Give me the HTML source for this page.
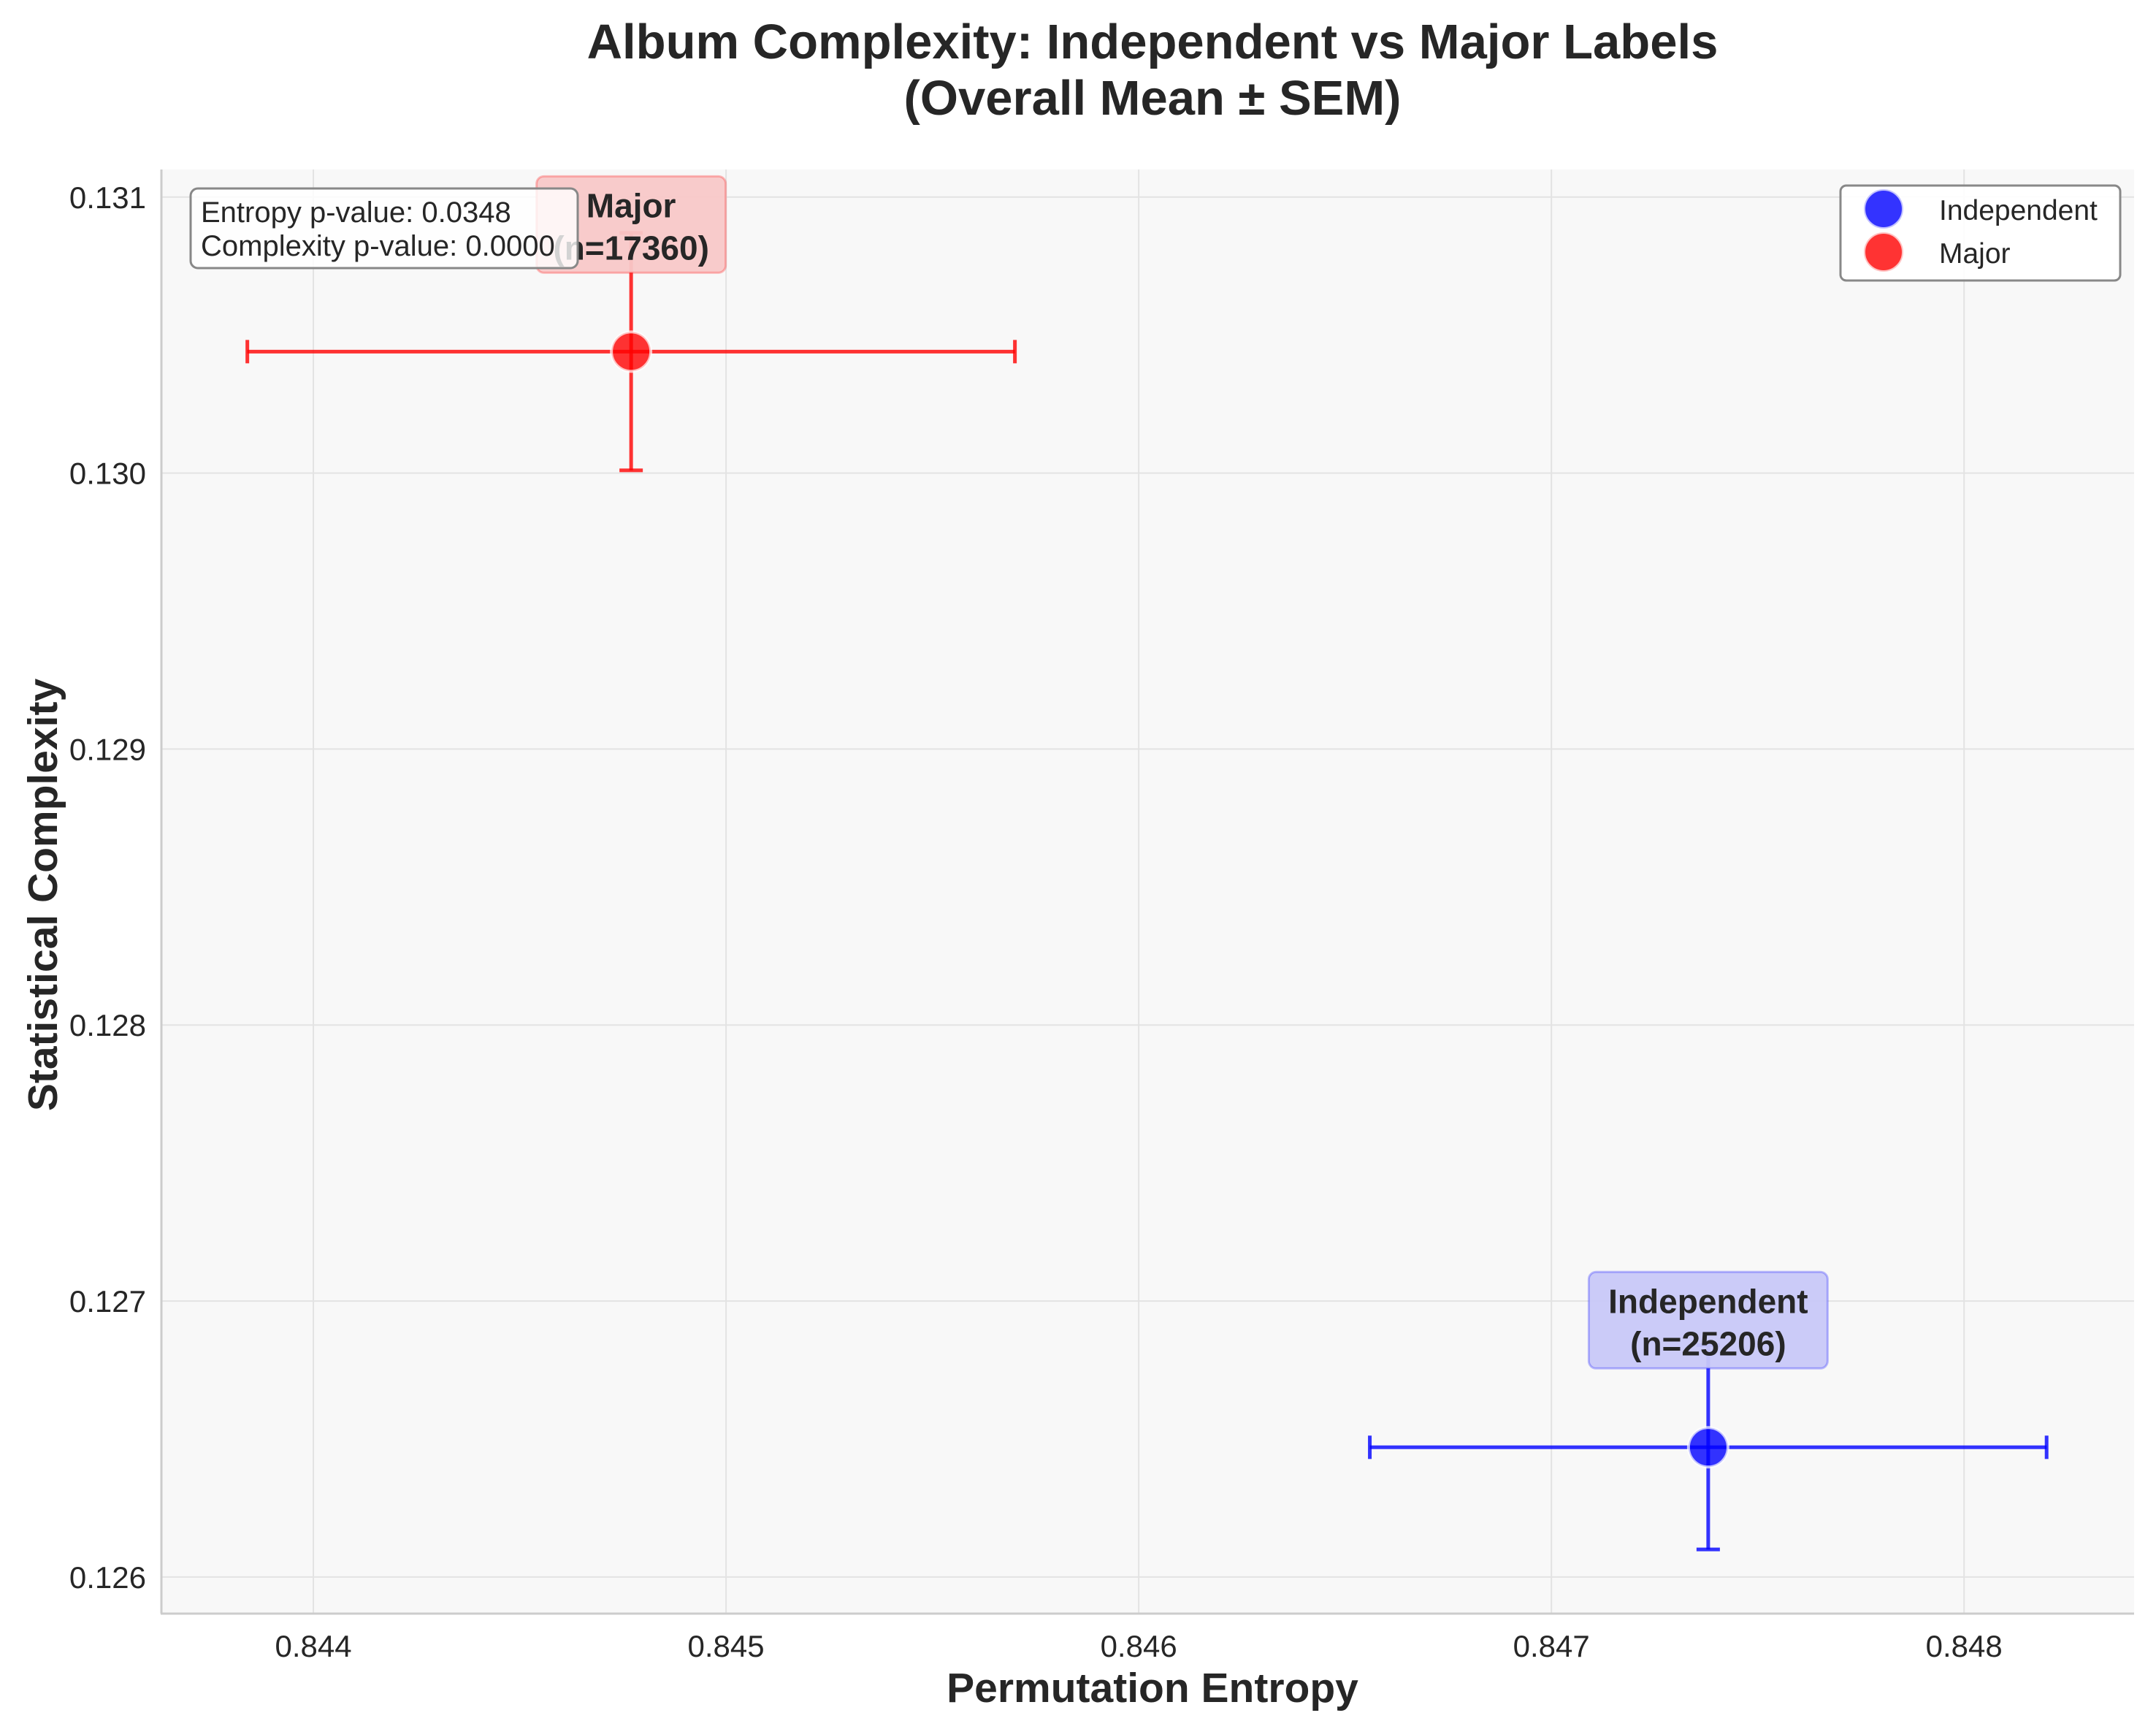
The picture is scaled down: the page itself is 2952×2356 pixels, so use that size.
<!DOCTYPE html>
<html><head><meta charset="utf-8"><style>
html,body{margin:0;padding:0;background:#fff;}
svg{display:block;font-family:"Liberation Sans",Arial,sans-serif;}
</style></head><body>
<svg id="chart" width="2952" height="2356" viewBox="0 0 2952 2356" xmlns="http://www.w3.org/2000/svg">
<rect width="2952" height="2356" fill="#fff"/>
<text x="1578" y="80" text-anchor="middle" font-size="67" font-weight="bold" fill="#262626">Album Complexity: Independent vs Major Labels</text>
<text x="1578" y="157" text-anchor="middle" font-size="67" font-weight="bold" fill="#262626">(Overall Mean ± SEM)</text>
<rect x="220" y="232" width="2702" height="1976" fill="#f8f8f8"/>
<g id="grid"></g>
<g id="ticks"></g>
<line x1="221" y1="232" x2="221" y2="2209" stroke="#ccc" stroke-width="3"/>
<line x1="220" y1="2209" x2="2922" y2="2209" stroke="#ccc" stroke-width="3"/>
<text x="1578" y="2330" text-anchor="middle" font-size="57" font-weight="bold" fill="#262626">Permutation Entropy</text>
<text transform="translate(78,1225) rotate(-90)" text-anchor="middle" font-size="57" font-weight="bold" fill="#262626">Statistical Complexity</text>
<g id="marks"></g>
<g>
<rect x="261" y="258" width="530" height="109" rx="10" fill="#fff" fill-opacity="0.8" stroke="#888" stroke-width="3"/>
<text x="275" y="304" font-size="40" fill="#262626">Entropy p-value: 0.0348</text>
<text x="275" y="350" font-size="40" fill="#262626">Complexity p-value: 0.0000</text>
</g>
<g>
<rect x="2520" y="254" width="383" height="130" rx="8" fill="#fff" fill-opacity="0.9" stroke="#888" stroke-width="3"/>
<circle cx="2579" cy="286" r="27" fill="#0000ff" fill-opacity="0.8" stroke="#fff" stroke-opacity="0.7" stroke-width="4"/>
<text x="2655" y="301" font-size="39" fill="#262626">Independent</text>
<circle cx="2579" cy="345" r="27" fill="#ff0000" fill-opacity="0.8" stroke="#fff" stroke-opacity="0.7" stroke-width="4"/>
<text x="2655" y="360" font-size="39" fill="#262626">Major</text>
</g>
<script>
const groups = ["Independent", "Major"];
const counts = [25206, 17360];
const entropyMean = [0.84738, 0.84477];
const entropySem = [0.00082, 0.00093];
const complexityMean = [0.12647, 0.13044];
const complexitySem = [0.00037, 0.00043];
const colors = ["#0000ff", "#ff0000"];
const boxFills = ["#c8c8f8", "#f8c8c8"];
const xTicks = [0.844, 0.845, 0.846, 0.847, 0.848];
const yTicks = [0.126, 0.127, 0.128, 0.129, 0.130, 0.131];

const NS = "http://www.w3.org/2000/svg";
const L = 220, R = 2922, T = 232, B = 2208;
const X0 = 0.84363, X1 = 0.848412, Y0 = 0.12587, Y1 = 0.1311;
const sx = v => L + (v - X0) / (X1 - X0) * (R - L);
const sy = v => B - (v - Y0) / (Y1 - Y0) * (B - T);
function mk(tag, attrs, parent) {
  const e = document.createElementNS(NS, tag);
  for (const k in attrs) e.setAttribute(k, attrs[k]);
  parent.appendChild(e);
  return e;
}
const grid = document.getElementById('grid');
const ticks = document.getElementById('ticks');
xTicks.forEach(v => {
  const g = mk('line', {x1: sx(v), x2: sx(v), y1: T, y2: B, stroke: '#e3e3e3', 'stroke-width': 2}, grid);
  
  
  const t = mk('text', {x: sx(v), y: B + 60, 'text-anchor': 'middle', 'font-size': 42, fill: '#262626'}, ticks);
  t.textContent = v.toFixed(3);
  
  
});
yTicks.forEach(v => {
  const g = mk('line', {x1: L, x2: R, y1: sy(v), y2: sy(v), stroke: '#e3e3e3', 'stroke-width': 2}, grid);
  
  
  const t = mk('text', {x: L - 20, y: sy(v) + 15, 'text-anchor': 'end', 'font-size': 42, fill: '#262626'}, ticks);
  t.textContent = v.toFixed(3);
  
  
});
const marks = document.getElementById('marks');
groups.forEach((g, i) => {
  const cx = sx(entropyMean[i]), cy = sy(complexityMean[i]);
  const xl = sx(entropyMean[i] - entropySem[i]), xr = sx(entropyMean[i] + entropySem[i]);
  const yt = sy(complexityMean[i] + complexitySem[i]), yb = sy(complexityMean[i] - complexitySem[i]);
  const grp = mk('g', {}, marks);
  
  
  const st = {stroke: colors[i], 'stroke-width': 5, 'stroke-opacity': 0.8};
  mk('line', Object.assign({x1: xl, x2: xr, y1: cy, y2: cy}, st), grp);
  mk('line', Object.assign({x1: cx, x2: cx, y1: yt, y2: yb}, st), grp);
  mk('line', Object.assign({x1: xl, x2: xl, y1: cy - 16, y2: cy + 16}, st), grp);
  mk('line', Object.assign({x1: xr, x2: xr, y1: cy - 16, y2: cy + 16}, st), grp);
  mk('line', Object.assign({x1: cx - 16, x2: cx + 16, y1: yt, y2: yt}, st), grp);
  mk('line', Object.assign({x1: cx - 16, x2: cx + 16, y1: yb, y2: yb}, st), grp);
  mk('circle', {cx: cx, cy: cy, r: 27, fill: colors[i], 'fill-opacity': 0.8, stroke: '#fff', 'stroke-opacity': 0.7, 'stroke-width': 4}, grp);
  const lb = mk('g', {}, marks);
  
  
  const w = i === 0 ? 327 : 259, h = 132;
  const by = cy - 240;
  mk('rect', {x: cx - w / 2, y: by, width: w, height: h, rx: 10, fill: boxFills[i], 'fill-opacity': 0.95, stroke: colors[i], 'stroke-opacity': 0.25, 'stroke-width': 3}, lb);
  const t1 = mk('text', {x: cx, y: by + 56, 'text-anchor': 'middle', 'font-size': 46, 'font-weight': 'bold', fill: '#262626'}, lb);
  t1.textContent = g;
  const t2 = mk('text', {x: cx, y: by + 114, 'text-anchor': 'middle', 'font-size': 46, 'font-weight': 'bold', fill: '#262626'}, lb);
  t2.textContent = '(n=' + counts[i] + ')';
});
</script>
</svg>
</body></html>
